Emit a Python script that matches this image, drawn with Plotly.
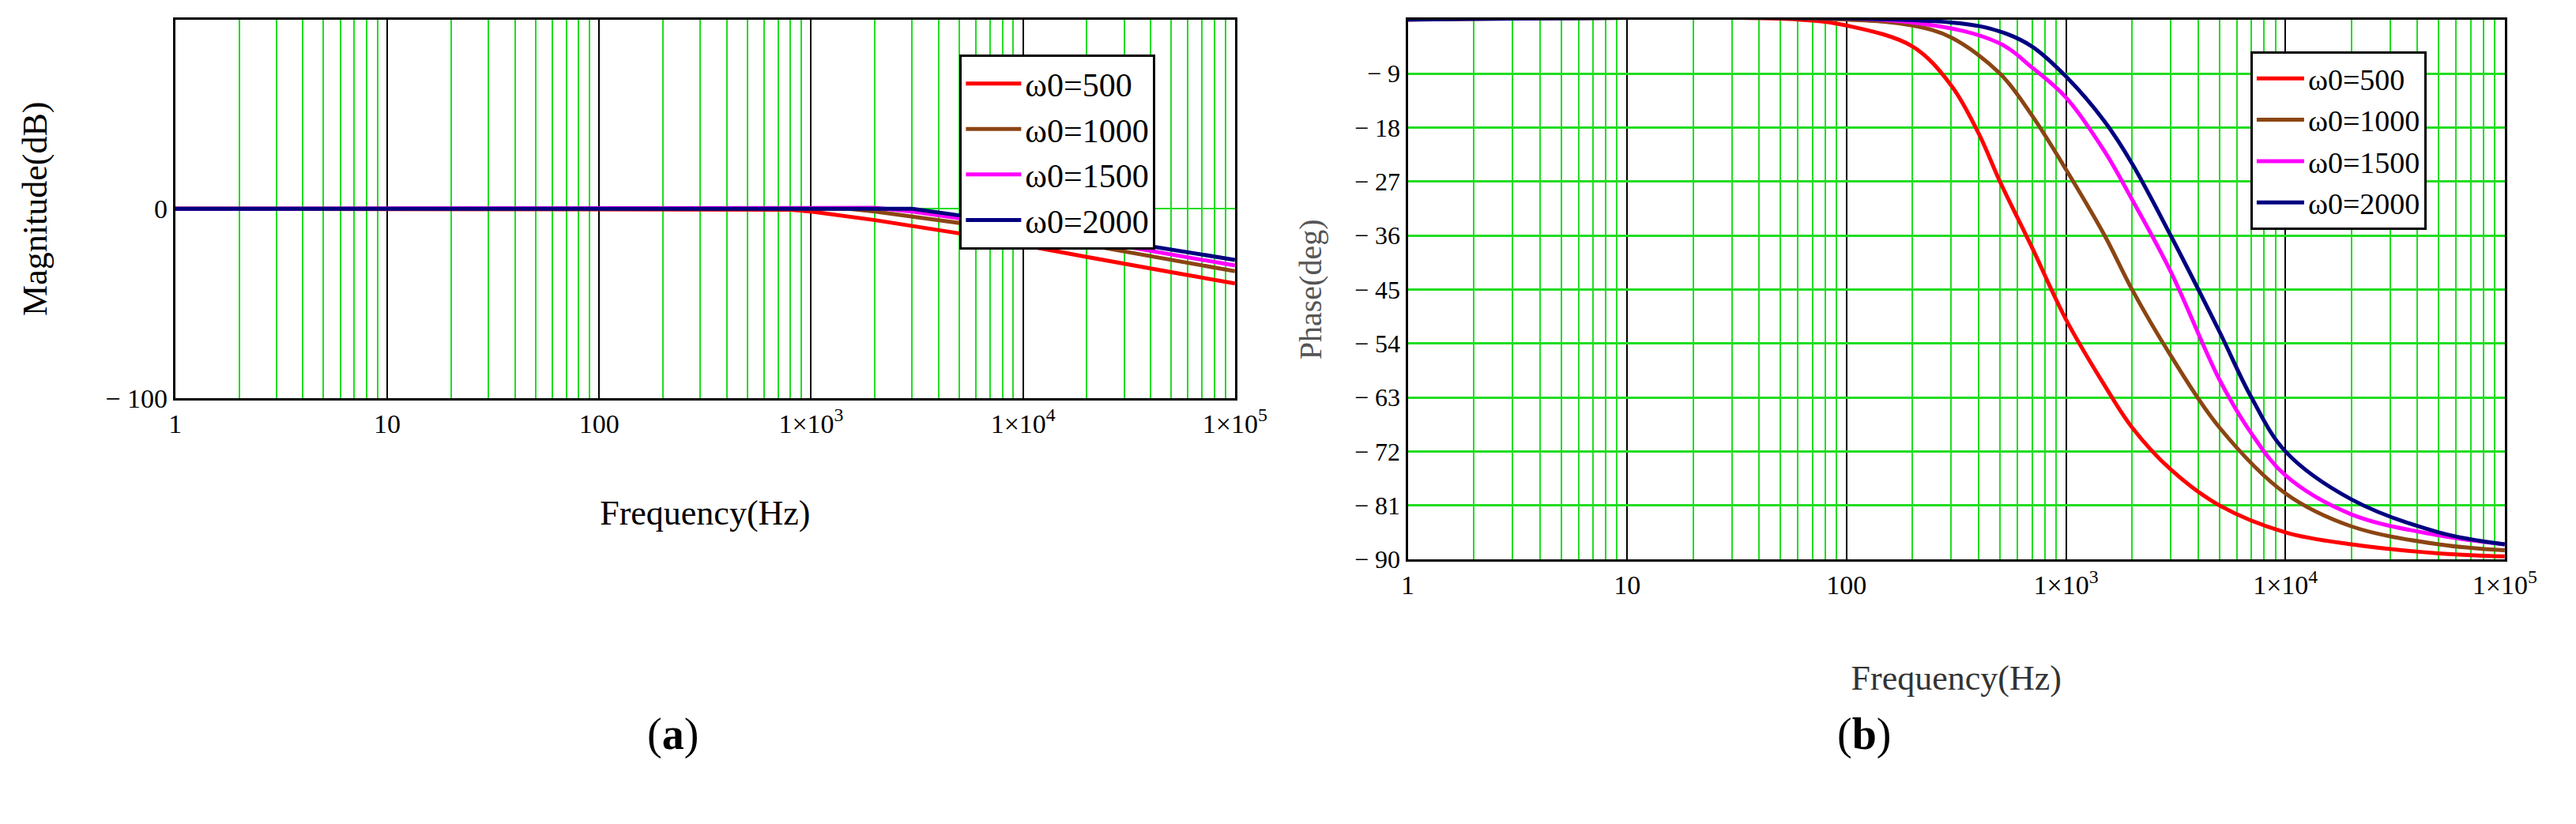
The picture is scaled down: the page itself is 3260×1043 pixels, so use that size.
import plotly.graph_objects as go

series = ["ω0=500", "ω0=1000", "ω0=1500", "ω0=2000"]
colors = ["#ff0000", "#8b4513", "#ff00ff", "#000080"]

mag_f = [
    [1, 100, 500, 800, 1000, 2000, 5000, 10000, 20000, 50000, 100000],
    [1, 100, 500, 1000, 1500, 2000, 5000, 10000, 20000, 50000, 100000],
    [1, 100, 500, 1000, 2000, 3000, 5000, 10000, 20000, 50000, 100000],
    [1, 100, 500, 1000, 2000, 3000, 5000, 10000, 20000, 50000, 100000],
]
mag_db = [
    [0, 0, 0, -0.5, -1.5, -6, -13, -19, -25.5, -33.5, -39.5],
    [0, 0, 0.5, 0.5, 0, -1.5, -7.5, -13, -19, -27, -33],
    [0, 0, 0.5, 0.5, 0.5, -1.5, -5, -10.5, -16.5, -24, -30],
    [0, 0, 0.5, 0.5, 0.5, 0, -3.5, -9, -14.5, -21.5, -27],
]

ph_f = [
    [1, 60, 100, 200, 300, 400, 500, 700, 1000, 1500, 2000, 3000, 5000, 10000, 20000, 50000, 100000],
    [1, 100, 200, 300, 500, 700, 1000, 1500, 2000, 3000, 5000, 10000, 20000, 50000, 100000],
    [1, 200, 500, 700, 1000, 1500, 2000, 3000, 5000, 7000, 10000, 20000, 50000, 100000],
    [1, 300, 500, 700, 1000, 1500, 2000, 3000, 5000, 7000, 10000, 20000, 50000, 100000],
]
ph_deg = [
    [0, 0, -1, -4.5, -11, -19, -27, -38, -50, -61, -68, -75, -81, -85.5, -87.5, -89, -89.5],
    [0, 0, -1, -3, -9, -16, -25, -36, -45, -56, -68, -79, -84.5, -87.5, -88.5],
    [0, -0.5, -4, -8, -13, -22, -30, -42, -60, -69, -76, -82.5, -86, -87.5],
    [0, -0.5, -2, -4.5, -9.5, -17, -24, -36, -52, -63, -72, -80, -85.5, -87.5],
]

x_tickvals = [1, 10, 100, 1000, 10000, 100000]
x_ticktext = ["1", "10", "100", "1×10<sup>3</sup>", "1×10<sup>4</sup>", "1×10<sup>5</sup>"]
ph_ticks = [0, -9, -18, -27, -36, -45, -54, -63, -72, -81, -90]

FONT = "Liberation Serif"
fig = go.Figure()
for i, s in enumerate(series):
    fig.add_trace(go.Scatter(x=mag_f[i], y=mag_db[i], mode="lines", name=s,
                             line=dict(color=colors[i], width=5), xaxis="x", yaxis="y",
                             legend="legend"))
for i, s in enumerate(series):
    fig.add_trace(go.Scatter(x=ph_f[i], y=ph_deg[i], mode="lines", name=s,
                             line=dict(color=colors[i], width=5, shape="spline"),
                             xaxis="x2", yaxis="y2", legend="legend2"))

W, H = 3260, 1043
def xd(a, b): return [a / W, b / W]
def yd(top, bot): return [1 - bot / H, 1 - top / H]

xcommon = dict(type="log", range=[0, 5], tickvals=x_tickvals, ticktext=x_ticktext,
               showgrid=True, gridcolor="black", gridwidth=2,
               minor=dict(dtick="D1", showgrid=True, gridcolor="#22dd22", gridwidth=2),
               showline=True, linecolor="black", linewidth=3, mirror=True,
               ticks="", tickfont=dict(family=FONT, size=34, color="black"),
               title=dict(font=dict(family=FONT, size=44, color="black")),
               zeroline=False)

fig.update_layout(
    width=W, height=H, margin=dict(l=0, r=0, t=0, b=0),
    paper_bgcolor="white", plot_bgcolor="white",
    xaxis=dict(xcommon, domain=xd(208, 1570), anchor="y",
               title=dict(text="Frequency(Hz)", standoff=80, font=dict(family=FONT, size=44, color="black"))),
    yaxis=dict(domain=yd(17, 505), anchor="x", range=[-100, 100], tickvals=[-100, 0, 100],
               ticktext=["− 100", "0", "100"], showgrid=True, gridcolor="#22dd22", gridwidth=2,
               zeroline=False, showline=True, linecolor="black", linewidth=3, mirror=True,
               ticks="", tickfont=dict(family=FONT, size=34, color="black"),
               title=dict(text="Magnitude(dB)", font=dict(family=FONT, size=44, color="black"), standoff=60)),
    xaxis2=dict(xcommon, domain=xd(1792, 3202), anchor="y2",
                title=dict(text="Frequency(Hz)", standoff=85, font=dict(family=FONT, size=44, color="#333"))),
    yaxis2=dict(domain=yd(17, 713), anchor="x2", range=[-90, 0], tickvals=ph_ticks,
                ticktext=[("− " + str(-t)) if t < 0 else "0" for t in ph_ticks],
                showgrid=True, gridcolor="#22dd22", gridwidth=3,
                zeroline=False, showline=True, linecolor="black", linewidth=3, mirror=True,
                ticks="", tickfont=dict(family=FONT, size=32, color="black"),
                title=dict(text="Phase(deg)", font=dict(family=FONT, size=40, color="#555"), standoff=30)),
    legend=dict(x=1216 / W, y=1 - 62 / H, xanchor="left", yanchor="top",
                bgcolor="white", bordercolor="black", borderwidth=3,
                font=dict(family=FONT, size=42, color="black"), itemwidth=70,
                entrywidth=300),
    legend2=dict(x=2875 / W, y=1 - 58 / H, xanchor="left", yanchor="top",
                 bgcolor="white", bordercolor="black", borderwidth=3,
                 font=dict(family=FONT, size=38, color="black"), itemwidth=60),
    showlegend=True,
    annotations=[
        dict(text="(<b>a</b>)", x=812 / W, y=1 - 973 / H, xref="paper", yref="paper",
             showarrow=False, font=dict(family=FONT, size=56, color="black")),
        dict(text="(<b>b</b>)", x=2415 / W, y=1 - 973 / H, xref="paper", yref="paper",
             showarrow=False, font=dict(family=FONT, size=56, color="black")),
    ],
)
fig.write_html("out.html")
